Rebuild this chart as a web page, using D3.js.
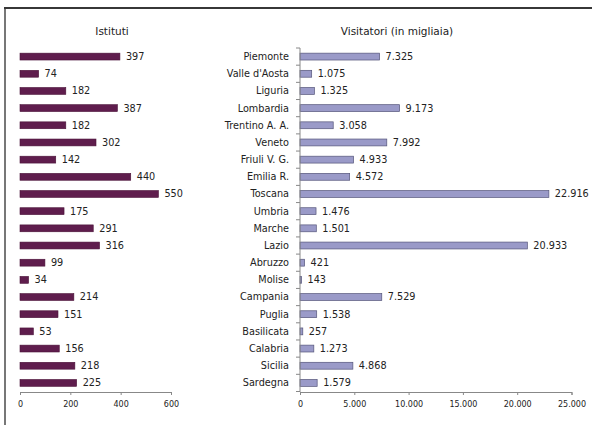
<!DOCTYPE html>
<html><head><meta charset="utf-8">
<script src="https://cdn.jsdelivr.net/npm/d3@7"></script>
<style>
html,body{margin:0;padding:0;background:#fff;}
svg{display:block;}
text{font-family:"DejaVu Sans",Verdana,sans-serif;fill:#222;}
</style></head>
<body>
<script>
const regions = ["Piemonte","Valle d'Aosta","Liguria","Lombardia","Trentino A. A.","Veneto","Friuli V. G.","Emilia R.","Toscana","Umbria","Marche","Lazio","Abruzzo","Molise","Campania","Puglia","Basilicata","Calabria","Sicilia","Sardegna"];
const istituti = [397,74,182,387,182,302,142,440,550,175,291,316,99,34,214,151,53,156,218,225];
const visitatori = [7325,1075,1325,9173,3058,7992,4933,4572,22916,1476,1501,20933,421,143,7529,1538,257,1273,4868,1579];
const istitutiTicks = [0,200,400,600];
const visitatoriTicks = [0,5000,10000,15000,20000,25000];
const titles = ["Istituti","Visitatori (in migliaia)"];

const W = 592, H = 425;
const svg = d3.select("body").append("svg").attr("width", W).attr("height", H);

// frame
svg.append("rect").attr("x",5).attr("y",8).attr("width",W+10).attr("height",H+10)
  .attr("fill","none").attr("stroke","#777").attr("stroke-width",2);
svg.append("line").attr("x1",4).attr("x2",W).attr("y1",8).attr("y2",8)
  .attr("stroke","#222").attr("stroke-width",1.5);

const fmt = d3.formatLocale({decimal:",", thousands:".", grouping:[3], currency:["€",""]}).format(",d");

const y = d3.scaleBand().domain(regions).range([48, 391.5]).paddingInner(0.6).paddingOuter(0.3);
const yStep = d3.scaleBand().domain(regions).range([48, 391.5]);

// LEFT chart
const xL = d3.scaleLinear().domain([0,600]).range([20,171]);
const gL = svg.append("g");
gL.selectAll("rect").data(regions).join("rect")
  .attr("x", xL(0)).attr("y", d => y(d))
  .attr("width", (d,i) => xL(istituti[i]) - xL(0)).attr("height", y.bandwidth())
  .attr("fill","#5f1d4d").attr("stroke","#4a1238").attr("stroke-width",0.6);
gL.selectAll("text.v").data(regions).join("text").attr("class","v")
  .attr("x", (d,i) => xL(istituti[i]) + 6).attr("y", d => y(d) + y.bandwidth()/2)
  .attr("dy","0.35em").attr("font-size",9.7).text((d,i) => fmt(istituti[i]));
const axL = svg.append("g").attr("transform","translate(0,392)")
  .call(d3.axisBottom(xL).tickValues(istitutiTicks).tickSize(3).tickPadding(6).tickFormat(fmt));
axL.selectAll("path,line").attr("stroke","#888");
axL.selectAll("text").attr("font-size",8).attr("fill","#222").attr("font-family","DejaVu Sans, sans-serif");

// RIGHT chart
const xR = d3.scaleLinear().domain([0,25000]).range([300,571.5]);
const gR = svg.append("g");
gR.selectAll("rect").data(regions).join("rect")
  .attr("x", xR(0)).attr("y", d => y(d))
  .attr("width", (d,i) => xR(visitatori[i]) - xR(0)).attr("height", y.bandwidth())
  .attr("fill","#9a9ac8").attr("stroke","#55557a").attr("stroke-width",0.7);
gR.selectAll("text.v").data(regions).join("text").attr("class","v")
  .attr("x", (d,i) => xR(visitatori[i]) + 6).attr("y", d => y(d) + y.bandwidth()/2)
  .attr("dy","0.35em").attr("font-size",9.7).text((d,i) => fmt(visitatori[i]));
const axR = svg.append("g").attr("transform","translate(0,392)")
  .call(d3.axisBottom(xR).tickValues(visitatoriTicks).tickSize(3).tickPadding(6).tickFormat(fmt));
axR.selectAll("path,line").attr("stroke","#888");
axR.selectAll("text").attr("font-size",8).attr("fill","#222").attr("font-family","DejaVu Sans, sans-serif");

// right y axis with category labels
const yAxG = svg.append("g");
yAxG.append("line").attr("x1",300).attr("x2",300).attr("y1",48).attr("y2",392).attr("stroke","#888");
yAxG.selectAll("line.t").data(regions.concat(["__end"])).join("line").attr("class","t")
  .attr("x1",296).attr("x2",300)
  .attr("y1",(d,i)=> i<regions.length ? yStep(d) : 391.5)
  .attr("y2",(d,i)=> i<regions.length ? yStep(d) : 391.5)
  .attr("stroke","#888");
yAxG.selectAll("text").data(regions).join("text")
  .attr("x",289).attr("y", d => y(d) + y.bandwidth()/2).attr("dy","0.35em")
  .attr("text-anchor","end").attr("font-size",9.7).text(d => d);

// titles
svg.append("text").attr("x",112).attr("y",31).attr("dy","0.35em").attr("text-anchor","middle").attr("font-size",10.5).text(titles[0]);
svg.append("text").attr("x",397).attr("y",31).attr("dy","0.35em").attr("text-anchor","middle").attr("font-size",10.5).text(titles[1]);
</script>
</body></html>
